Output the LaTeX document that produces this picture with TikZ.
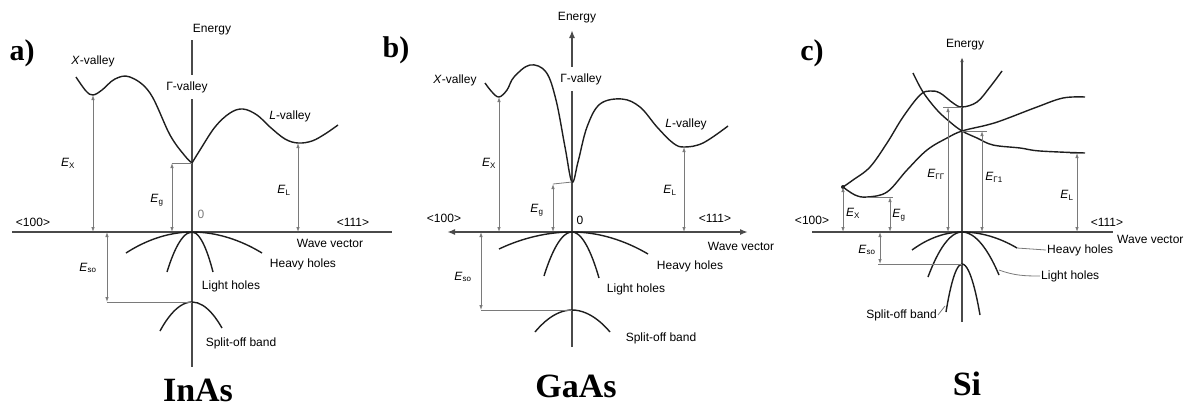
\documentclass[tikz,border=0pt]{standalone}
\usepackage{fontspec}
\setmainfont{Liberation Serif}
\setsansfont{Liberation Sans}
\usepackage{xcolor}
\usepackage{tikz}
\usetikzlibrary{arrows.meta}
\definecolor{BandInk}{HTML}{1E1E1E}
\definecolor{AxisInk}{HTML}{4A4A4A}
\definecolor{GapInk}{HTML}{7A7A7A}
\newcommand{\En}[1]{\textit{E}\textsubscript{#1}}

\begin{document}
\begin{tikzpicture}[x=1pt,y=-1pt,font=\sffamily\fontsize{12}{14}\selectfont,>={Latex[length=5pt,width=3.5pt]},
  band/.style={BandInk,line width=1.4pt,line join=round},
  axis/.style={AxisInk,line width=1.8pt},
  gap/.style={GapInk,line width=0.8pt,<->},
  tick/.style={GapInk,line width=0.8pt},
  lbl/.style={inner sep=1pt},
  cover/.style={fill=white,inner xsep=1pt,inner ysep=6pt},
  tag/.style={font=\rmfamily\bfseries\fontsize{30}{32}\selectfont},
  title/.style={font=\rmfamily\bfseries\fontsize{34}{36}\selectfont}]
\useasboundingbox (0,0) rectangle (1188,408);

% a) InAs
\node[tag] (tagA) at (22,53) {a)};
\draw[axis] (12,232) -- (392,232);
\draw[axis] (192,40) -- (192,367);
\node[lbl] (enA) at (212,30) {Energy};
\node[cover] (gamA) at (187,87) {Γ-valley};
\node[lbl] (xvA) at (93,61) {\textit{X}-valley};
\node[lbl] (lvA) at (290,116) {\textit{L}-valley};
\coordinate (aX) at (93,95);
\coordinate (aG) at (192,163);
\coordinate (aL) at (298,143);
\coordinate (aS) at (192,302);
\draw[band] plot[smooth,tension=0.6] coordinates {(76,77) (86,91) (aX) (102,90) (115,79) (130,77) (150,93) (170,135) (185,156) (aG)};
\draw[band] plot[smooth,tension=0.6] coordinates {(aG) (200,150) (215,127) (230,113) (243,109) (257,115) (270,127) (285,139) (aL) (312,141) (325,134) (338,125)};
\draw[band] (126,253) parabola bend (192,232) (262,253);
\draw[band] (167,272) parabola bend (192,232) (213,272);
\draw[band] (160,331) parabola bend (aS) (222,328);
\draw[gap] (aX) -- (93,232);
\draw[tick] (172,163) -- (aG);
\draw[gap] (172,163) -- (172,232);
\draw[gap] (aL) -- (298,232);
\draw[tick] (107,302) -- (aS);
\draw[gap] (107,232) -- (107,302);
\node[lbl] (exA) at (68,163) {\En{X}};
\node[lbl] (egA) at (157,200) {\En{g}};
\node[lbl] (elA) at (284,190) {\En{L}};
\node[lbl] (esA) at (88,268) {\En{so}};
\node[lbl,text=GapInk] (zeroA) at (201,214) {0};
\node[lbl] (hA) at (33,222) {<100>};
\node[lbl] (kA) at (353,222) {<111>};
\node[lbl] (wvA) at (330,243) {Wave vector};
\node[lbl] (hhA) at (303,264) {Heavy holes};
\node[lbl] (lhA) at (231,286) {Light holes};
\node[lbl] (soA) at (241,343) {Split-off band};
\node[title] (nameA) at (198,390) {InAs};

% b) GaAs
\node[tag] (tagB) at (396,50) {b)};
\draw[axis,{Latex[length=8pt,width=6pt]}-{Latex[length=8pt,width=6pt]}] (447,232) -- (748,232);
\draw[axis,-{Latex[length=8pt,width=6pt]}] (572,347) -- (572,30);
\node[lbl] (enB) at (577,18) {Energy};
\node[cover] (gamB) at (581,79) {Γ-valley};
\node[lbl] (xvB) at (455,80) {\textit{X}-valley};
\node[lbl] (lvB) at (686,124) {\textit{L}-valley};
\coordinate (bX) at (499,97);
\coordinate (bG) at (572,182);
\coordinate (bL) at (684,147);
\coordinate (bS) at (572,310);
\draw[band] plot[smooth,tension=0.6] coordinates {(485,83) (492,92) (bX) (507,90) (514,77) (530,65) (546,72) (556,100) (565,147) (bG) (578,162) (587,127) (600,104) (622,99) (640,107) (657,127) (673,143) (bL) (703,143) (728,126)};
\draw[band] (499,249) parabola bend (572,232) (648,254);
\draw[band] (544,276) parabola bend (572,232) (599,278);
\draw[band] (535,332) parabola bend (bS) (610,332);
\draw[gap] (bX) -- (499,232);
\draw[tick] (553,184) -- (bG);
\draw[gap] (553,184) -- (553,232);
\draw[gap] (bL) -- (684,232);
\draw[tick] (481,310) -- (bS);
\draw[gap] (481,232) -- (481,310);
\node[lbl] (exB) at (489,163) {\En{X}};
\node[lbl] (egB) at (537,210) {\En{g}};
\node[lbl] (elB) at (670,190) {\En{L}};
\node[lbl] (esB) at (463,277) {\En{so}};
\node[lbl] (zeroB) at (580,220) {0};
\node[lbl] (hB) at (444,218) {<100>};
\node[lbl] (kB) at (715,218) {<111>};
\node[lbl] (wvB) at (741,246) {Wave vector};
\node[lbl] (hhB) at (690,266) {Heavy holes};
\node[lbl] (lhB) at (636,289) {Light holes};
\node[lbl] (soB) at (661,338) {Split-off band};
\node[title] (nameB) at (576,386) {GaAs};

% c) Si
\node[tag] (tagC) at (812,53) {c)};
\draw[axis] (812,232) -- (1113,232);
\draw[axis,->] (962,322) -- (962,57);
\node[lbl] (enC) at (965,45) {Energy};
\coordinate (cX) at (843,187);
\coordinate (cM) at (867,197);
\coordinate (cG) at (962,107);
\coordinate (cC) at (962,131);
\coordinate (cL) at (1077,153);
\coordinate (cS) at (962,264);
\draw[band] plot[smooth,tension=0.6] coordinates {(913,73) (923,92) (937,110) (950,122) (cC) (977,138) (993,145) (1020,148) (1040,151) (1085,153)};
\draw[band] plot[smooth,tension=0.6] coordinates {(cX) (853,180) (870,167) (887,143) (903,117) (920,95) (930,91) (940,93) (953,103) (cG) (977,102) (990,87) (1002,71)};
\draw[band] plot[smooth,tension=0.6] coordinates {(cX) (855,195) (cM) (887,192) (907,170) (927,150) (947,138) (cC) (987,125) (1003,120) (1037,107) (1063,98) (1085,97)};
\fill[BandInk] (cX) circle (2pt);
\draw[band] (912,250) parabola bend (962,232) (1017,248);
\draw[band] (928,277) parabola bend (962,232) (999,275);
\draw[band] (946,312) parabola bend (cS) (980,315);
\draw[gap] (cX) -- (843,232);
\draw[tick] (cM) -- (893,197);
\draw[gap] (890,197) -- (890,232);
\draw[tick] (943,107) -- (cG);
\draw[gap] (948,107) -- (948,232);
\draw[tick] (cC) -- (987,131);
\draw[gap] (982,131) -- (982,232);
\draw[tick] (1070,153) -- (1085,153);
\draw[gap] (cL) -- (1077,232);
\draw[tick] (878,264) -- (cS);
\draw[gap] (880,232) -- (880,264);
\node[lbl] (exC) at (853,213) {\En{X}};
\node[lbl] (egC) at (899,215) {\En{g}};
\node[lbl] (eggC) at (936,174) {\En{ΓΓ}};
\node[lbl] (eg1C) at (994,177) {\En{Γ1}};
\node[lbl] (elC) at (1067,195) {\En{L}};
\node[lbl] (esC) at (867,250) {\En{so}};
\node[lbl] (hC) at (812,220) {<100>};
\node[lbl] (kC) at (1107,222) {<111>};
\node[lbl,anchor=west] (wvC) at (1116,239) {Wave vector};
\node[lbl,anchor=west] (hhC) at (1046,250) {Heavy holes};
\node[lbl,anchor=west] (lhC) at (1040,276) {Light holes};
\node[lbl,anchor=east] (soC) at (938,315) {Split-off band};
\draw[tick] (1017,248) -- (hhC.west);
\draw[tick] (999,270) to[out=-20,in=180] (lhC.west);
\draw[tick] (945,306) -- (soC.east);
\node[title] (nameC) at (967,384) {Si};
\end{tikzpicture}
\end{document}
